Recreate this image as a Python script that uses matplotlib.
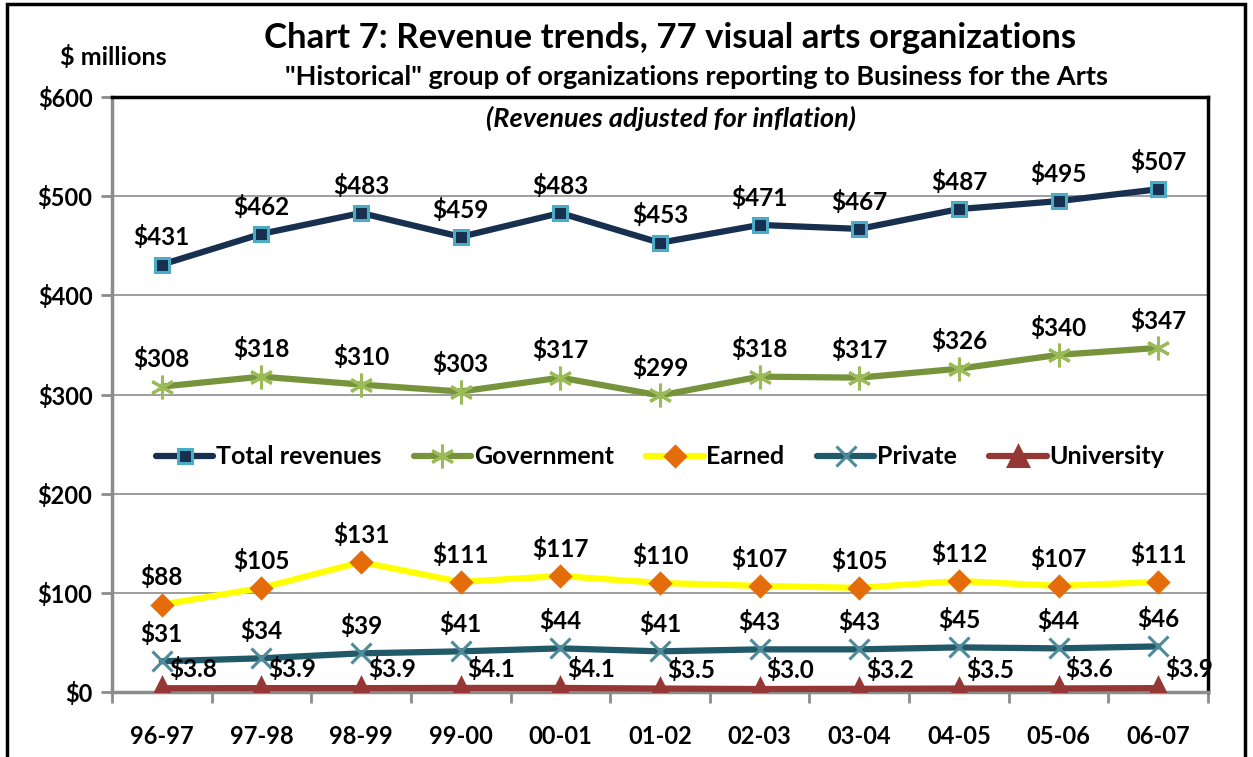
import matplotlib.pyplot as plt
from matplotlib.patches import Rectangle

years = ['96-97', '97-98', '98-99', '99-00', '00-01', '01-02',
         '02-03', '03-04', '04-05', '05-06', '06-07']
total = [431, 462, 483, 459, 483, 453, 471, 467, 487, 495, 507]
government = [308, 318, 310, 303, 317, 299, 318, 317, 326, 340, 347]
earned = [88, 105, 131, 111, 117, 110, 107, 105, 112, 107, 111]
private = [31, 34, 39, 41, 44, 41, 43, 43, 45, 44, 46]
university = [3.8, 3.9, 3.9, 4.1, 4.1, 3.5, 3.0, 3.2, 3.5, 3.6, 3.9]

plt.rcParams['font.family'] = ['Lato', 'DejaVu Sans']

fig = plt.figure(figsize=(12.53, 7.57), dpi=100)
ax = fig.add_axes([112 / 1253, 1 - 692 / 757, 1096 / 1253, 595 / 757])

x = list(range(len(years)))

# series: name, values, line colour, marker, face, edge, size, label offset, align
series = [
    ('Total revenues', total, '#17304f', 's', '#17304f', '#4bacc6', 10, (0, 11), 'center'),
    ('Government', government, '#77933c', (6, 2, 0), '#9bbb59', '#9bbb59', 17, (0, 11), 'center'),
    ('Earned', earned, '#ffff00', 'D', '#e46c0a', '#e46c0a', 10, (0, 11), 'center'),
    ('Private', private, '#215968', 'x', '#4f8a9a', '#4f8a9a', 14, (0, 11), 'center'),
    ('University', university, '#953735', '^', '#953735', '#953735', 14, (5, 5), 'left'),
]

for name, vals, lc, mk, mfc, mec, ms, off, ha in series:
    ax.plot(x, vals, color=lc, lw=4.5, marker=mk, markersize=ms,
            markerfacecolor=mfc, markeredgecolor=mec, markeredgewidth=2.2,
            label=name, solid_capstyle='round', zorder=3)
    for xi, v in zip(x, vals):
        txt = f'${v:.1f}' if name == 'University' else f'${v:.0f}'
        ax.annotate(txt, (xi, v), xytext=off, textcoords='offset points',
                    ha=ha, va='bottom', fontsize=17.5, fontweight='bold', zorder=4)

ax.set_xlim(-0.5, 10.5)
ax.set_ylim(0, 600)
ax.set_yticks(range(0, 601, 100))
ax.set_yticklabels([f'${v}' for v in range(0, 601, 100)], fontsize=17, fontweight='bold')
ax.set_xticks(x)
ax.set_xticklabels(years, fontsize=17, fontweight='bold')
ax.set_xticks([i + 0.5 for i in range(-1, 11)], minor=True)
ax.tick_params(axis='x', which='major', length=0, pad=24)
ax.tick_params(axis='x', which='minor', length=8, width=2, color='#8c8c8c')
ax.tick_params(axis='y', length=8, width=2, color='#8c8c8c', pad=6)

ax.grid(axis='y', color='#8c8c8c', lw=1.2)
ax.set_axisbelow(True)
ax.spines['left'].set_color('#8c8c8c')
ax.spines['left'].set_linewidth(2.5)
ax.spines['bottom'].set_color('#8c8c8c')
ax.spines['bottom'].set_linewidth(2.5)
ax.spines['top'].set_linewidth(2.5)
ax.spines['right'].set_linewidth(2.5)

ax.legend(loc='center', bbox_to_anchor=(0.5, 0.395), ncol=5, frameon=False,
          prop={'size': 18, 'weight': 'bold'}, handlelength=2.3,
          handletextpad=0.1, columnspacing=1.3)

fig.text(670 / 1253, 1 - 38 / 757, 'Chart 7: Revenue trends, 77 visual arts organizations',
         ha='center', va='center', fontsize=25, fontweight='bold')
fig.text(697 / 1253, 1 - 77 / 757,
         '"Historical" group of organizations reporting to Business for the Arts',
         ha='center', va='center', fontsize=19.5, fontweight='bold')
fig.text(671 / 1253, 1 - 118 / 757, '(Revenues adjusted for inflation)',
         ha='center', va='center', fontsize=19.5, fontweight='bold', style='italic')
fig.text(113 / 1253, 1 - 57 / 757, '$ millions', ha='center', va='center',
         fontsize=18, fontweight='bold')

fig.patches.append(Rectangle((7 / 1253, -0.05), 1238 / 1253, 1.05 - 4 / 757,
                             transform=fig.transFigure, fill=False,
                             edgecolor='black', lw=2.5))

fig.savefig('out.png', dpi=100)
